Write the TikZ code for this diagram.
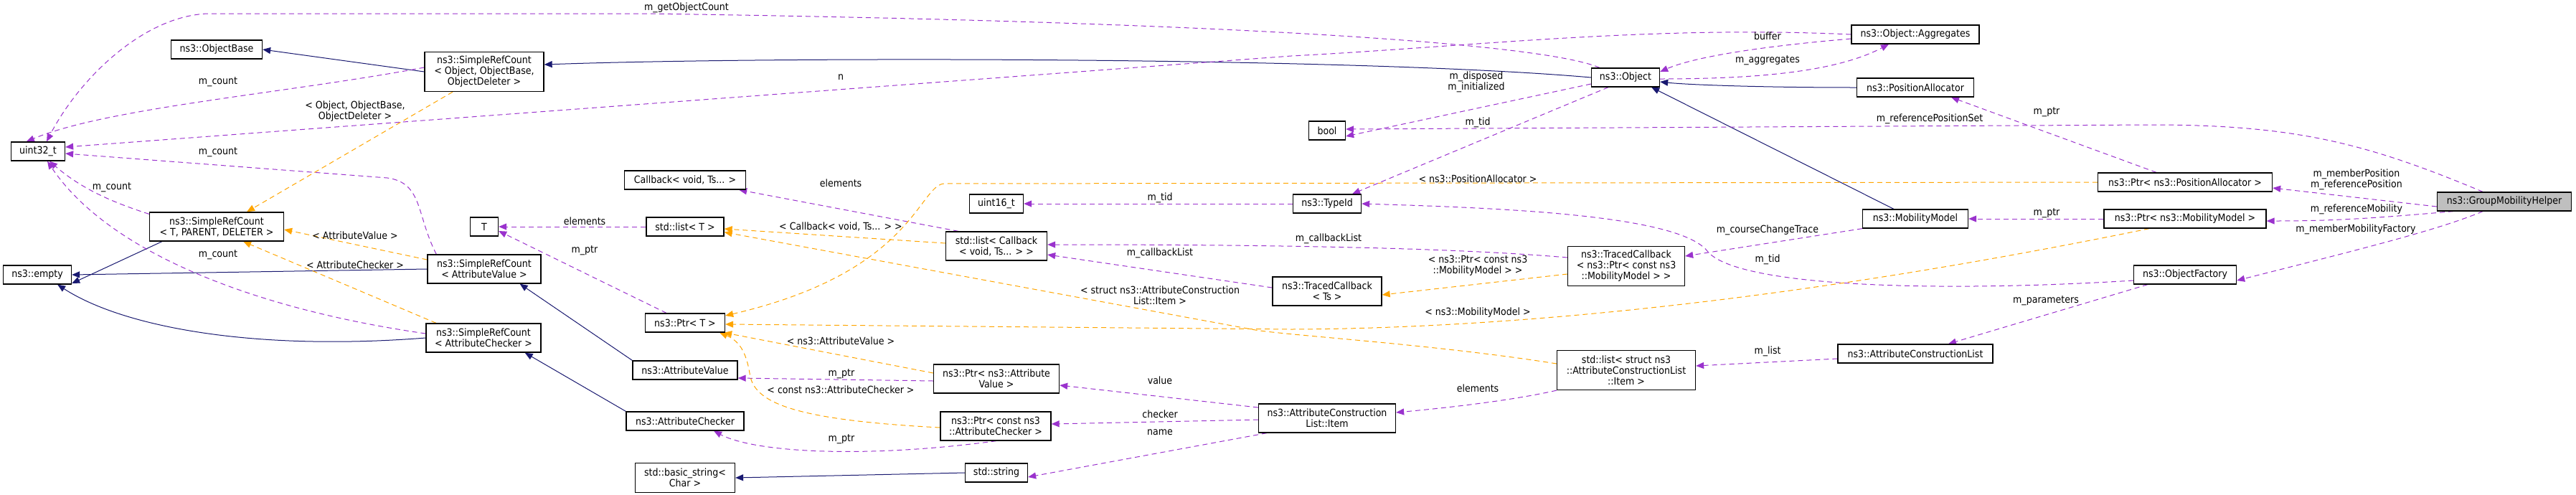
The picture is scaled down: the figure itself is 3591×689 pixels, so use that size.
\documentclass[tikz,border=0pt]{standalone}
\usepackage{fontspec}
\setmainfont{DejaVu Sans Condensed}
\usetikzlibrary{arrows.meta,backgrounds}
\definecolor{navy}{HTML}{191970}
\definecolor{purp}{HTML}{9A32CD}
\definecolor{orng}{HTML}{FFA500}
\begin{document}
\begin{tikzpicture}[x=1pt,y=-1pt,
  every node/.style={font=\fontsize{14}{15}\selectfont},
  box/.style={draw=black,line width=1.3pt,fill=white,align=center,minimum height=26pt,inner xsep=3pt,inner ysep=2pt},
  hl/.style={box,fill=black!25},
  inh/.style={-{Triangle[length=11pt,width=9pt,fill=navy]},draw=navy,line width=1pt},
  mem/.style={-{Triangle[length=11pt,width=9pt,fill=purp]},draw=purp,line width=1pt,dash pattern=on 7pt off 5pt},
  tpl/.style={-{Triangle[length=11pt,width=9pt,fill=orng]},draw=orng,line width=1pt,dash pattern=on 7pt off 5pt},
  lbl/.style={inner sep=0pt,fill=none,draw=none,align=center}]
\useasboundingbox (0,0) rectangle (3591,689);
% nodes
\node[box,minimum width=75pt] (u32) at (53,211) {uint32\_t};
\node[box,minimum width=127pt] (ob) at (302,69) {ns3::ObjectBase};
\node[box,minimum width=166pt,minimum height=55pt] (srcO) at (675,100) {ns3::SimpleRefCount\\< Object, ObjectBase,\\ObjectDeleter >};
\node[box,minimum width=187pt,minimum height=40pt] (srcT) at (302,316) {ns3::SimpleRefCount\\< T, PARENT, DELETER >};
\node[box,minimum width=95pt] (emp) at (52,383) {ns3::empty};
\node[box,minimum width=158pt,minimum height=40pt] (srcAV) at (675,375) {ns3::SimpleRefCount\\< AttributeValue >};
\node[box,minimum width=160pt,minimum height=40pt] (srcAC) at (674,471) {ns3::SimpleRefCount\\< AttributeChecker >};
\node[box,minimum width=39pt] (T) at (675,316) {T};
\node[box,minimum width=169pt] (cb) at (955,251) {Callback< void, Ts... >};
\node[box,minimum width=108pt] (listT) at (955,316) {std::list< T >};
\node[box,minimum width=111pt] (ptrT) at (955,450) {ns3::Ptr< T >};
\node[box,minimum width=146pt] (av) at (955,516) {ns3::AttributeValue};
\node[box,minimum width=164pt] (ac) at (955,587) {ns3::AttributeChecker};
\node[box,minimum width=139pt,minimum height=41pt] (bstr) at (955,666) {std::basic\_string<\\Char >};
\node[box,minimum width=75pt] (u16) at (1389,284) {uint16\_t};
\node[box,minimum width=141pt,minimum height=40pt] (listCb) at (1389,343) {std::list< Callback\\< void, Ts... > >};
\node[box,minimum width=175pt,minimum height=40pt] (ptrAV) at (1389,528) {ns3::Ptr< ns3::Attribute\\Value >};
\node[box,minimum width=154pt,minimum height=40pt] (ptrAC) at (1388,594) {ns3::Ptr< const ns3\\::AttributeChecker >};
\node[box,minimum width=87pt] (str) at (1389,659) {std::string};
\node[box,minimum width=191pt,minimum height=40pt] (item) at (1850,583) {ns3::AttributeConstruction\\List::Item};
\node[box,minimum width=152pt,minimum height=40pt] (tcTs) at (1850,406) {ns3::TracedCallback\\< Ts >};
\node[box,minimum width=51pt] (bool) at (1850,182) {bool};
\node[box,minimum width=95pt] (obj) at (2266,108) {ns3::Object};
\node[box,minimum width=95pt] (tid) at (1850,284) {ns3::TypeId};
\node[box,minimum width=163pt,minimum height=55pt] (tcP) at (2267,371) {ns3::TracedCallback\\< ns3::Ptr< const ns3\\::MobilityModel > >};
\node[box,minimum width=193pt,minimum height=55pt] (listItem) at (2267,516) {std::list< struct ns3\\::AttributeConstructionList\\::Item >};
\node[box,minimum width=178pt] (agg) at (2670,48) {ns3::Object::Aggregates};
\node[box,minimum width=163pt] (pa) at (2670,122) {ns3::PositionAllocator};
\node[box,minimum width=147pt] (mm) at (2670,305) {ns3::MobilityModel};
\node[box,minimum width=216pt] (acl) at (2670,493) {ns3::AttributeConstructionList};
\node[box,minimum width=243pt] (ptrPA) at (3046,254) {ns3::Ptr< ns3::PositionAllocator >};
\node[box,minimum width=226pt] (ptrMM) at (3046,305) {ns3::Ptr< ns3::MobilityModel >};
\node[box,minimum width=143pt] (of) at (3046,383) {ns3::ObjectFactory};
\node[hl,minimum width=187pt] (gmh) at (3491,281) {ns3::GroupMobilityHelper};
\begin{scope}[on background layer]
% inheritance
\draw[inh] (srcO.west) -- (ob.east);
\draw[inh] (obj.west) .. controls (1900,80) and (1100,78) .. ([yshift=10pt]srcO.east);
\draw[inh] ([xshift=18pt]srcT.south west) -- ([yshift=-12pt]emp.east);
\draw[inh] (srcAV.west) -- (emp.east);
\draw[inh] (srcAC.west) .. controls (350,490) and (170,455) .. ([xshift=-20pt]emp.south east);
\draw[inh] (av.north west) -- ([xshift=-30pt]srcAV.south east);
\draw[inh] (ac.north west) -- ([xshift=-23pt]srcAC.south east);
\draw[inh] (str.west) -- (bstr.east);
\draw[inh] (pa.west) .. controls (2450,122) and (2350,118) .. ([yshift=-6pt]obj.east);
\draw[inh] ([xshift=44pt]mm.north west) -- ([xshift=-12pt]obj.south east);
% members
\draw[mem] ([xshift=12pt]obj.north west) .. controls (2150,60) and (1700,30) .. (900,19) -- (290,19) .. controls (200,22) and (110,110) .. ([xshift=12pt]u32.north) node[lbl] at (957,11) {m\_getObjectCount};
\draw[mem] (agg.west) .. controls (2300,35) and (2050,65) .. (1800,78) -- ([yshift=6pt]u32.east) node[lbl] at (1172,108) {n};
\draw[mem] ([yshift=6pt]srcO.west) .. controls (400,130) and (150,150) .. ([xshift=22pt]u32.north west) node[lbl] at (304,114) {m\_count};
\draw[mem] ([xshift=13pt]srcAV.north west) .. controls (580,300) and (590,255) .. (540,248) -- ([yshift=-3pt]u32.east) node[lbl] at (304,212) {m\_count};
\draw[mem] ([yshift=-3pt]srcT.north west) .. controls (150,280) and (110,260) .. ([xshift=16pt]u32.south) node[lbl] at (156,261) {m\_count};
\draw[mem] ([yshift=6pt]srcAC.west) .. controls (350,430) and (150,350) .. ([xshift=13pt]u32.south) node[lbl] at (304,355) {m\_count};
\draw[mem] ([yshift=-9pt]obj.west) -- ([yshift=-8pt]bool.east) node[lbl] at (2058,114) {m\_disposed\\m\_initialized};
\draw[mem] ([xshift=-30pt]gmh.north) .. controls (3300,200) and (3200,174) .. (3000,174) -- ([yshift=2pt]bool.east) node[lbl] at (2690,166) {m\_referencePositionSet};
\draw[mem] ([xshift=-24pt]obj.south) -- ([xshift=35pt]tid.north) node[lbl] at (2060,171) {m\_tid};
\draw[mem] ([yshift=-8pt]of.west) .. controls (2700,408) and (2420,400) .. (2380,350) .. controls (2340,300) and (2100,290) .. (tid.east) node[lbl] at (2464,362) {m\_tid};
\draw[mem] (tid.west) -- (u16.east) node[lbl] at (1617,276) {m\_tid};
\draw[mem] ([yshift=-6pt]agg.west) .. controls (2450,65) and (2360,80) .. ([yshift=8pt]obj.east) node[lbl] at (2464,50) {buffer};
\draw[mem] ([yshift=-2pt]obj.east) .. controls (2450,110) and (2560,100) .. ([xshift=-37pt]agg.south) node[lbl] at (2464,84) {m\_aggregates};
\draw[mem] ([xshift=-53pt]listCb.north) -- ([xshift=-10pt]cb.south east) node[lbl] at (1172,255) {elements};
\draw[mem] (listT.west) -- (T.east) node[lbl] at (815,308) {elements};
\draw[mem] ([xshift=-26pt]ptrT.north) -- ([yshift=-6pt]T.east) node[lbl] at (815,349) {m\_ptr};
\draw[mem] ([yshift=5pt]tcTs.west) -- ([yshift=-12pt]listCb.east) node[lbl] at (1617,353) {m\_callbackList};
\draw[mem] ([yshift=12pt]tcP.west) .. controls (2000,343) and (1700,341) .. ([yshift=2pt]listCb.east) node[lbl] at (1852,333) {m\_callbackList};
\draw[mem] (mm.south west) -- ([yshift=14pt]tcP.east) node[lbl] at (2464,321) {m\_courseChangeTrace};
\draw[mem] ([yshift=-3pt]ptrAV.west) -- ([yshift=-11pt]av.east) node[lbl] at (1173,521) {m\_ptr};
\draw[mem] ([xshift=-77pt]ptrAC.south east) .. controls (1200,640) and (1050,630) .. ([xshift=40pt]ac.south) node[lbl] at (1173,612) {m\_ptr};
\draw[mem] ([yshift=15pt]item.west) -- ([yshift=-9pt]ptrAV.east) node[lbl] at (1617,530) {value};
\draw[mem] ([yshift=-2pt]item.west) -- ([yshift=3pt]ptrAC.east) node[lbl] at (1617,577) {checker};
\draw[mem] ([xshift=12pt]item.south west) -- ([yshift=-6pt]str.east) node[lbl] at (1617,603) {name};
\draw[mem] (listItem.south west) .. controls (2100,560) and (2000,570) .. ([yshift=8pt]item.east) node[lbl] at (2060,541) {elements};
\draw[mem] ([yshift=-7pt]acl.west) -- ([yshift=6pt]listItem.east) node[lbl] at (2464,490) {m\_list};
\draw[mem] ([xshift=20pt]of.south west) -- ([xshift=46pt]acl.north) node[lbl] at (2852,419) {m\_parameters};
\draw[mem] ([xshift=-40pt]ptrPA.north) -- ([xshift=50pt]pa.south) node[lbl] at (2853,156) {m\_ptr};
\draw[mem] (ptrMM.west) -- (mm.east) node[lbl] at (2853,297) {m\_ptr};
\draw[mem] ([yshift=-7pt]gmh.west) -- ([yshift=-8pt]ptrPA.east) node[lbl] at (3285,250) {m\_memberPosition\\m\_referencePosition};
\draw[mem] ([xshift=23pt]gmh.south west) .. controls (3300,305) and (3250,308) .. ([yshift=-3pt]ptrMM.east) node[lbl] at (3285,292) {m\_referenceMobility};
\draw[mem] ([xshift=-30pt]gmh.south) .. controls (3400,320) and (3300,345) .. ([yshift=-8pt]of.east) node[lbl] at (3284,320) {m\_memberMobilityFactory};
% template instances
\draw[tpl] ([xshift=-44pt]srcO.south) -- ([xshift=42pt]srcT.north) node[lbl] at (495,155) {< Object, ObjectBase,\\ObjectDeleter >};
\draw[tpl] ([yshift=13pt]srcAV.west) -- ([yshift=-4pt]srcT.east) node[lbl] at (495,328) {< AttributeValue >};
\draw[tpl] ([xshift=-66pt]srcAC.north) -- ([xshift=37pt]srcT.south) node[lbl] at (495,369) {< AttributeChecker >};
\draw[tpl] ([yshift=4pt]listCb.west) -- ([yshift=-3pt]listT.east) node[lbl] at (1172,316) {< Callback< void, Ts... > >};
\draw[tpl] ([yshift=9pt]listItem.west) .. controls (2000,480) and (1800,468) .. (1750,460) -- ([yshift=6pt]listT.south east) node[lbl] at (1617,412) {< struct ns3::AttributeConstruction\\List::Item >};
\draw[tpl] (ptrPA.west) -- (1315,256) .. controls (1280,262) and (1270,380) .. ([yshift=10pt]ptrT.east) node[lbl] at (2060,249) {< ns3::PositionAllocator >};
\draw[tpl] ([xshift=-50pt]ptrMM.south) .. controls (2500,420) and (2100,458) .. (1800,459) -- ([yshift=-2pt]ptrT.east) node[lbl] at (2060,436) {< ns3::MobilityModel >};
\draw[tpl] ([yshift=8pt]ptrAV.west) -- ([xshift=-2pt]ptrT.south east) node[lbl] at (1172,475) {< ns3::AttributeValue >};
\draw[tpl] ([yshift=-2pt]ptrAC.west) .. controls (1100,585) and (1050,560) .. (1045,520) .. controls (1040,490) and (1030,475) .. ([xshift=-8pt]ptrT.south east) node[lbl] at (1172,543) {< const ns3::AttributeChecker >};
\draw[tpl] ([yshift=-11pt]tcP.west) -- ([yshift=-5pt]tcTs.east) node[lbl] at (2060,370) {< ns3::Ptr< const ns3\\::MobilityModel > >};
\end{scope}
\end{tikzpicture}
\end{document}
